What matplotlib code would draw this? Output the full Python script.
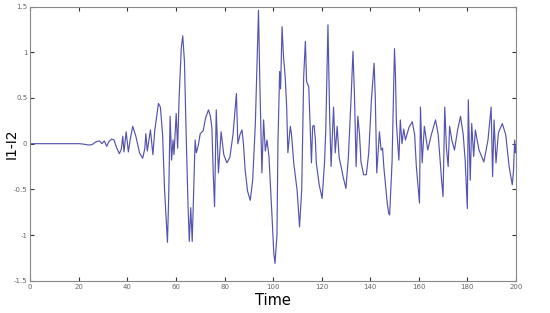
import matplotlib
matplotlib.use("Agg")
import matplotlib.pyplot as plt

time = [0, 20, 22, 24, 25.5, 27, 28.5, 29.5, 30.5, 31.5, 32.3, 33.5, 34.5, 35.5, 36.7, 37.5,
        38.1, 38.6, 39.5, 40.4, 41.2, 42.2, 43.5, 45, 46.3, 47.2, 47.6, 48.2, 49.5, 50.5, 51.3,
        52.8, 53.6, 54.5, 55.3, 56.5, 57.0, 57.6, 58.2, 58.8, 59.2, 60.1, 60.7, 61.3, 62.2, 62.8,
        63.5, 64.3, 65.0, 65.5, 66.1, 66.7, 67.3, 67.9, 68.4, 69.2, 70.0, 71.2, 72.2, 73.4, 74.2,
        74.8, 75.4, 75.9, 76.6, 77.5, 78.6, 79.7, 81.0, 82.2, 83.5, 84.9, 85.5, 86.4, 87.2, 87.8,
        88.5, 89.5, 90.6, 91.6, 92.7, 93.4, 94.0, 94.6, 95.4, 96.1, 96.8, 97.5, 98.3, 98.9, 99.5,
        100.3, 100.8, 101.6, 102.0, 102.7, 103.1, 103.7, 104.3, 105.0, 105.6, 106.1, 107.1, 107.6,
        108.5, 109.9, 110.9, 111.8, 112.6, 113.3, 113.8, 114.7, 115.8, 116.3, 116.9, 117.4, 117.8,
        119.0, 120.2, 121.2, 121.7, 122.6, 123.3, 123.9, 124.9, 125.6, 126.4, 127.2, 128.0, 129.0,
        130.0, 131.0, 132.1, 132.9, 133.5, 134.2, 134.9, 135.6, 136.2, 137.3, 138.4, 139.4, 140.5,
        141.6, 142.1, 142.7, 143.8, 144.5, 145.1, 145.6, 147.0, 147.6, 148.0, 149.0, 150.0, 150.4,
        150.8, 151.8, 152.4, 153.1, 153.8, 154.5, 156.0, 157.3, 158.3, 159.0, 160.3, 160.7, 161.4,
        162.3, 163.7, 165.0, 166.9, 168.0, 169.4, 170.0, 170.7, 171.4, 172.1, 172.7, 173.6, 174.7,
        176.0, 177.2, 178.3, 179.1, 180.0, 180.4, 180.8, 181.2, 181.8, 182.6, 183.3, 184.8, 186.8,
        188.5, 189.8, 190.4, 191.0, 191.8, 192.8, 194.4, 195.8, 197.2, 198.5, 199.0, 199.5, 199.8,
        200.0]

i1_minus_i2 = [0, 0, -0.005, -0.015, -0.01, 0.02, 0.03, 0.0, 0.03, -0.03, 0.02, 0.05, 0.04, -0.04,
               -0.11, -0.06, 0.08, -0.09, 0.13, -0.09, 0.05, 0.19, 0.08, -0.10, -0.16, -0.05, 0.11,
               -0.08, 0.15, -0.12, 0.15, 0.44, 0.40, 0.10, -0.50, -1.08, -0.60, 0.30, -0.18, 0.04,
               -0.12, 0.33, -0.05, 0.50, 1.05, 1.18, 0.90, 0.0, -0.70, -1.07, -0.70, -1.07, -0.5,
               0.04, -0.10, -0.02, 0.11, 0.14, 0.28, 0.37, 0.30, 0.17, -0.36, -0.69, 0.37, -0.32,
               0.13, -0.12, -0.21, -0.15, 0.10, 0.55, 0.0, 0.10, 0.15, 0.00, -0.29, -0.52, -0.62,
               -0.40, 0.22, 0.90, 1.46, 0.60, -0.32, 0.26, -0.08, 0.04, -0.14, -0.45, -0.76, -1.20,
               -1.31, -1.00, 0.00, 0.79, 0.60, 1.28, 0.95, 0.73, 0.40, -0.10, 0.19, 0.10, -0.21,
               -0.51, -0.91, -0.50, 0.73, 1.12, 0.68, 0.62, -0.21, 0.19, 0.20, 0.05, -0.21, -0.45,
               -0.60, -0.20, 0.15, 1.30, 0.30, -0.25, 0.40, -0.10, 0.19, -0.15, -0.25, -0.38, -0.49,
               -0.15, 0.48, 1.01, 0.55, -0.25, 0.30, 0.10, -0.20, -0.34, -0.34, -0.10, 0.48, 0.88,
               0.50, -0.32, 0.13, -0.07, -0.05, -0.25, -0.65, -0.76, -0.78, -0.20, 1.04, 0.75, 0.22,
               -0.18, 0.26, 0.0, 0.16, 0.04, 0.18, 0.24, 0.10, -0.25, -0.65, 0.40, -0.21, 0.19,
               -0.07, 0.08, 0.26, 0.10, -0.40, -0.58, 0.40, -0.05, -0.25, 0.19, 0.04, -0.07, 0.15,
               0.30, 0.10, -0.18, -0.71, 0.48, 0.0, -0.40, 0.22, -0.14, 0.15, -0.07, -0.20, 0.04,
               0.40, -0.36, 0.26, -0.21, 0.12, 0.22, 0.10, -0.25, -0.45, -0.30, 0.04, -0.10, -0.02]

x_ticks = [0, 20, 40, 60, 80, 100, 120, 140, 160, 180, 200]
y_ticks = [-1.5, -1, -0.5, 0, 0.5, 1, 1.5]
y_tick_labels = ["-1.5", "-1", "-0.5", "0", "0.5", "1", "1.5"]

fig = plt.figure(figsize=(5.5, 3.13), dpi=100)
ax = fig.add_axes([0.055, 0.103, 0.883, 0.876])
ax.plot(time, i1_minus_i2, color="#5454b0", linewidth=0.85)
ax.set_xlim(0, 200)
ax.set_ylim(-1.5, 1.5)
ax.set_xticks(x_ticks)
ax.set_xticklabels([str(t) for t in x_ticks])
ax.set_yticks(y_ticks)
ax.set_yticklabels(y_tick_labels)
ax.tick_params(direction="in", top=True, right=True, length=3, width=0.8,
               labelsize=5, labelcolor="#666666", color="#333333", pad=2)
for s in ax.spines.values():
    s.set_color("#888888")
    s.set_linewidth(0.8)
ax.set_xlabel("Time", fontsize=10.5)
ax.xaxis.set_label_coords(0.5, -0.045)
ax.set_ylabel("I1-I2", fontsize=10)
ax.yaxis.set_label_coords(-0.024, 0.5)
fig.savefig("out.png", dpi=100)
